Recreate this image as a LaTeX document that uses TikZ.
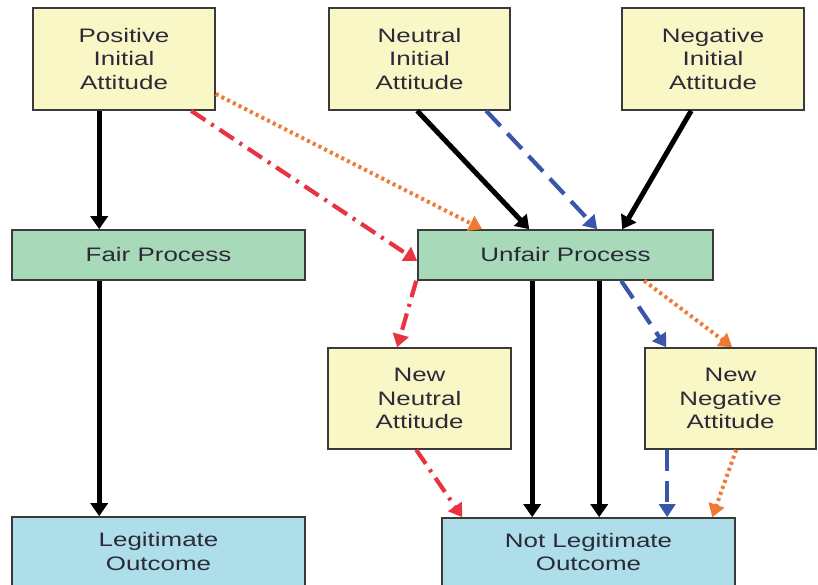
\documentclass[tikz,border=0pt]{standalone}
\usepackage{fontspec}
\setmainfont[FakeStretch=1.33]{Liberation Sans}
\usetikzlibrary{arrows.meta,calc}
\definecolor{yfill}{HTML}{F9F7C6}
\definecolor{gfill}{HTML}{A8D9B9}
\definecolor{bfill}{HTML}{ADDEE9}
\definecolor{bord}{HTML}{3A3A3A}
\definecolor{txt}{HTML}{2A2A38}
\definecolor{redl}{HTML}{EA3340}
\definecolor{orl}{HTML}{F07A35}
\definecolor{bll}{HTML}{3A56AA}
\tikzset{
  box/.style={draw=bord, line width=1.6pt, inner sep=0pt, align=center, text=txt,
    font=\fontsize{19.5}{23.5}\selectfont},
  ybox/.style={box, fill=yfill},
  gbox/.style={box, fill=gfill},
  bbox/.style={box, fill=bfill},
  blk/.style={draw=black, line width=5pt, -{Triangle[length=13pt,width=17pt]}},
  reddd/.style={draw=redl, line width=4.2pt, dash pattern=on 17pt off 7pt on 3pt off 7pt,
    -{Triangle[length=13pt,width=16pt]}},
  bluedash/.style={draw=bll, line width=4.2pt, dash pattern=on 21pt off 10pt,
    -{Triangle[length=13pt,width=16pt]}},
  ordot/.style={draw=orl, line width=4pt, dash pattern=on 3pt off 3.4pt,
    -{Triangle[length=13pt,width=16pt]}}
}
\begin{document}
\begin{tikzpicture}[x=1pt,y=-1pt]
\useasboundingbox (0,0) rectangle (818,585);
\clip (0,0) rectangle (818,585);
\fill[white] (0,0) rectangle (818,585);
% nodes
\node[ybox, minimum width=182pt, minimum height=102pt] (pos) at (124,59) {Positive\\Initial\\Attitude};
\node[ybox, minimum width=181pt, minimum height=102pt] (neu) at (419.5,59) {Neutral\\Initial\\Attitude};
\node[ybox, minimum width=182pt, minimum height=102pt] (neg) at (713,59) {Negative\\Initial\\Attitude};
\node[gbox, minimum width=293pt, minimum height=50pt] (fair) at (158.5,255) {Fair Process};
\node[gbox, minimum width=295pt, minimum height=50pt] (unfair) at (565.5,255) {Unfair Process};
\node[ybox, minimum width=183pt, minimum height=101pt] (nneu) at (419.5,398.5) {New\\Neutral\\Attitude};
\node[ybox, minimum width=171pt, minimum height=101pt] (nneg) at (730.5,398.5) {New\\Negative\\Attitude};
\node[bbox, minimum width=293pt, minimum height=69pt] (leg) at (158.5,551.5) {Legitimate\\Outcome};
\node[bbox, minimum width=293pt, minimum height=68pt] (nleg) at (588.5,552) {Not Legitimate\\Outcome};
% black arrows
\draw[blk] ([xshift=67pt]pos.south west) -- ([xshift=88pt]fair.north west);
\draw[blk] ([xshift=88pt]fair.south west) -- ([xshift=88pt]leg.north west);
\draw[blk] ([xshift=89pt]neu.south west) -- ([xshift=112pt]unfair.north west);
\draw[blk] ([xshift=70pt]neg.south west) -- ([xshift=205pt]unfair.north west);
\draw[blk] ([xshift=115pt]unfair.south west) -- ([xshift=91pt]nleg.north west);
\draw[blk] ([xshift=182pt]unfair.south west) -- ([xshift=158pt]nleg.north west);
% red dash-dot
\draw[reddd] ([xshift=159pt]pos.south west) -- ([yshift=-6pt]unfair.west);
\draw[reddd] ([xshift=-1pt]unfair.south west) -- ([xshift=70pt]nneu.north west);
\draw[reddd] ([xshift=89pt]nneu.south west) -- ([xshift=21pt]nleg.north west);
% blue dashed
\draw[bluedash] ([xshift=158pt]neu.south west) -- ([xshift=180pt]unfair.north west);
\draw[bluedash] ([xshift=204pt]unfair.south west) -- ([xshift=22pt]nneg.north west);
\draw[bluedash] ([xshift=23pt]nneg.south west) -- ([xshift=226pt]nleg.north west);
% orange dotted
\draw[ordot] ([yshift=-35pt]pos.east) -- ([xshift=65pt]unfair.north west);
\draw[ordot] ([xshift=227pt]unfair.south west) -- ([xshift=88pt]nneg.north west);
\draw[ordot] ([xshift=92pt]nneg.south west) -- ([xshift=271pt]nleg.north west);
\end{tikzpicture}
\end{document}
